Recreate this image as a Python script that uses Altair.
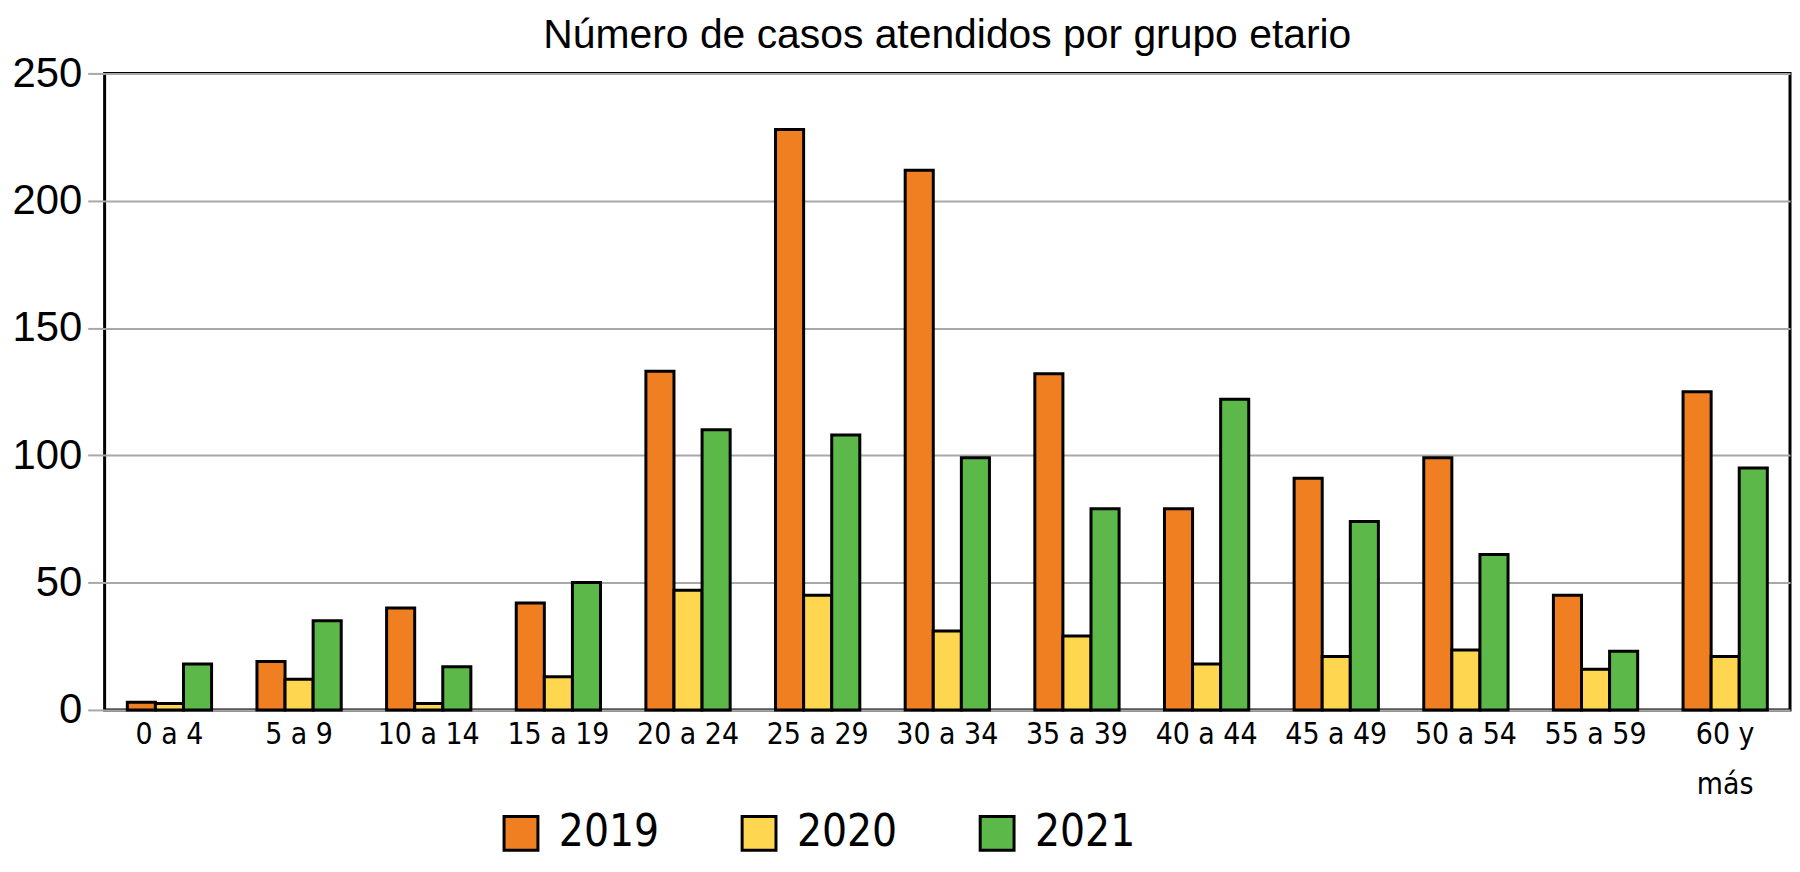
import altair as alt
import pandas as pd

grupos = ["0 a 4", "5 a 9", "10 a 14", "15 a 19", "20 a 24", "25 a 29", "30 a 34",
          "35 a 39", "40 a 44", "45 a 49", "50 a 54", "55 a 59", "60 y más"]
anios = ["2019", "2020", "2021"]
v2019 = [3, 19, 40, 42, 133, 228, 212, 132, 79, 91, 99, 45, 125]
v2020 = [2.5, 12, 2.5, 13, 47, 45, 31, 29, 18, 21, 23.5, 16, 21]
v2021 = [18, 35, 17, 50, 110, 108, 99, 79, 122, 74, 61, 23, 95]
colores = ["#F07F22", "#FFD64F", "#5CB848"]
y_ticks = [0, 50, 100, 150, 200, 250]

rows = []
for serie, anio in zip([v2019, v2020, v2021], anios):
    for g, v in zip(grupos, serie):
        rows.append({"grupo": g, "anio": anio, "casos": v})
df = pd.DataFrame(rows)

NARROW = "DejaVu Sans Condensed, Liberation Sans Narrow, sans-serif"
REG = "Liberation Sans, DejaVu Sans, sans-serif"

chart = alt.Chart(df).mark_bar(stroke="black", strokeWidth=3).encode(
    x=alt.X("grupo:N", sort=grupos, title=None,
            scale=alt.Scale(paddingInner=0.35, paddingOuter=0.175),
            axis=alt.Axis(labelAngle=0, labelFont=NARROW, labelFontSize=30,
                          labelColor="black", ticks=False, domain=False,
                          labelPadding=10, labelLineHeight=50,
                          labelExpr="datum.label == '60 y más' ? ['60 y', 'más'] : datum.label")),
    xOffset=alt.XOffset("anio:N", sort=anios),
    y=alt.Y("casos:Q", title=None, scale=alt.Scale(domain=[0, 250], nice=False),
            axis=alt.Axis(values=y_ticks, labelFont=REG, labelFontSize=42,
                          labelColor="black", domain=False, tickColor="#A8A8A8",
                          tickWidth=2, tickSize=17, labelPadding=6,
                          gridColor="#A8A8A8", gridWidth=2)),
    color=alt.Color("anio:N", scale=alt.Scale(domain=anios, range=colores),
                    legend=alt.Legend(title=None, orient="none", legendX=396, legendY=741,
                                      direction="horizontal", symbolType="square",
                                      symbolSize=1156, symbolStrokeColor="black",
                                      symbolStrokeWidth=3, symbolOpacity=1,
                                      labelFont=NARROW, labelFontSize=44,
                                      labelColor="black", labelOffset=16,
                                      columnPadding=77)),
).properties(
    width=1692, height=639,
    title=alt.TitleParams("Número de casos atendidos por grupo etario", font=REG,
                          fontSize=41, fontWeight="normal", color="black",
                          anchor="middle", baseline="alphabetic", offset=3, dy=39),
    autosize=alt.AutoSizeParams(type="none"),
    padding={"left": 97, "top": 64, "right": 2, "bottom": 150},
).configure_view(stroke="black", strokeWidth=3)

chart.save("out.html", embed_options={"renderer": "svg", "actions": False})
